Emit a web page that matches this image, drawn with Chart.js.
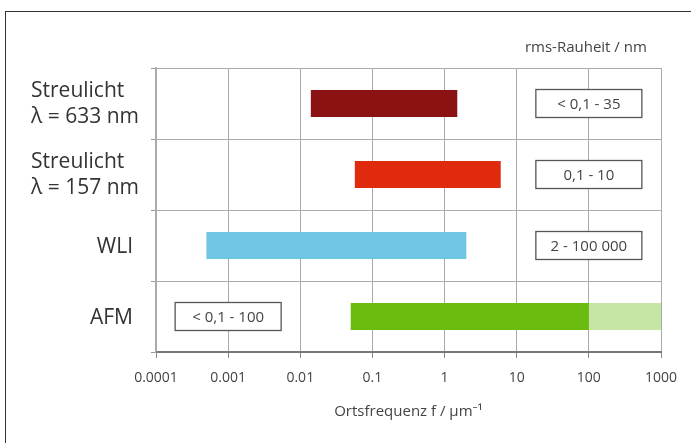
<!DOCTYPE html>
<html>
<head>
<meta charset="utf-8">
<script src="https://cdn.jsdelivr.net/npm/chart.js@4"></script>
<style>
  html, body { margin: 0; padding: 0; background: #fff; }
  #wrap { position: relative; width: 691px; height: 443px; overflow: hidden; }
  #frame { position: absolute; left: 5px; top: 11px; width: 720px; height: 480px;
           border-top: 1.5px solid #333; border-left: 1.5px solid #333; }
  canvas { position: absolute; left: 0; top: 0; }
</style>
</head>
<body>
<div id="wrap">
  <div id="frame"></div>
  <canvas id="chart" width="691" height="443"></canvas>
</div>
<script>
// Messverfahren (y-Kategorien)
const methods = [["Streulicht", "λ = 633 nm"], ["Streulicht", "λ = 157 nm"], ["WLI"], ["AFM"]];
// Ortsfrequenzbereich in 1/µm
const rangeStart = [0.014, 0.057, 0.0005, 0.05];
const rangeEnd = [1.5, 6, 2, 100];
// AFM-Erweiterung (heller Teil)
const extStart = [null, null, null, 100];
const extEnd = [null, null, null, 1000];
const barColors = ["#8b1213", "#e02a0e", "#6ec6e4", "#6cbc10"];
const extColor = "#c6e6a4";
// rms-Rauheit in nm
const roughness = ["< 0,1 - 35", "0,1 - 10", "2 - 100 000", "< 0,1 - 100"];
const roughnessAt = [100, 100, 100, 0.001];
// x-Achse
const xTicks = [0.0001, 0.001, 0.01, 0.1, 1, 10, 100, 1000];
const xTickLabels = ["0.0001", "0.001", "0.01", "0.1", "1", "10", "100", "1000"];

const FONT = "'Open Sans', 'Noto Sans', sans-serif";

const labelsPlugin = {
  id: "labelsPlugin",
  afterDraw(chart) {
    const ctx = chart.ctx;
    const xs = chart.scales.x;
    const ys = chart.scales.y;
    ctx.save();
    // Kategorienbeschriftung
    ctx.fillStyle = "#333";
    ctx.font = "21px " + FONT;
    ctx.textBaseline = "middle";
    methods.forEach((m, i) => {
      const y = ys.getPixelForValue(i);
      if (m.length > 1) {
        ctx.textAlign = "left";
        ctx.fillText(m[0], 31, y - 12);
        ctx.fillText(m[1], 31, y + 14);
      } else {
        ctx.textAlign = "right";
        ctx.fillText(m[0], 133, y + 2);
      }
    });
    // Rauheitskästen
    ctx.font = "15px " + FONT;
    ctx.textAlign = "center";
    roughness.forEach((r, i) => {
      const cx = xs.getPixelForValue(roughnessAt[i]);
      const cy = ys.getPixelForValue(i);
      ctx.fillStyle = "#fff";
      ctx.fillRect(cx - 53, cy - 14, 106, 28);
      ctx.strokeStyle = "#555";
      ctx.lineWidth = 1.3;
      ctx.strokeRect(cx - 53, cy - 14, 106, 28);
      ctx.fillStyle = "#444";
      ctx.fillText(r, cx, cy + 1);
    });
    // Überschrift rechts
    ctx.font = "15px " + FONT;
    ctx.fillStyle = "#444";
    ctx.fillText("rms-Rauheit / nm", xs.getPixelForValue(100) - 3, 48);
    ctx.restore();
  }
};

new Chart(document.getElementById("chart"), {
  type: "bar",
  data: {
    labels: methods,
    datasets: [
      {
        data: rangeStart.map((s, i) => [s, rangeEnd[i]]),
        backgroundColor: barColors,
        grouped: false,
        barPercentage: 0.38,
        categoryPercentage: 1
      },
      {
        data: extStart.map((s, i) => s === null ? null : [s, extEnd[i]]),
        backgroundColor: extColor,
        grouped: false,
        barPercentage: 0.38,
        categoryPercentage: 1
      }
    ]
  },
  options: {
    indexAxis: "y",
    responsive: false,
    animation: false,
    layout: { padding: { top: 68, right: 30, bottom: 0, left: 0 } },
    plugins: { legend: { display: false }, tooltip: { enabled: false } },
    scales: {
      x: {
        type: "logarithmic",
        min: 0.0001,
        max: 1000,
        afterBuildTicks: s => { s.ticks = xTicks.map(v => ({ value: v })); },
        afterFit: s => { s.height = 91; },
        ticks: {
          autoSkip: false,
          maxRotation: 0,
          color: "#444",
          font: { family: FONT, size: 14 },
          padding: 12,
          callback: (v, i) => xTickLabels[i]
        },
        grid: { color: "#aaa", tickLength: 6, tickColor: "#888" },
        border: { color: "#777", width: 2 },
        title: {
          display: true,
          text: "Ortsfrequenz f / µm⁻¹",
          color: "#444",
          font: { family: FONT, size: 15 },
          padding: { top: 0, bottom: 22 }
        }
      },
      y: {
        type: "category",
        afterFit: s => { s.width = 156; },
        ticks: { display: false },
        grid: { offset: true, color: "#aaa", tickLength: 5, tickColor: "#999" },
        border: { color: "#aaa", width: 1.5 }
      }
    }
  },
  plugins: [labelsPlugin]
});
</script>
</body>
</html>
